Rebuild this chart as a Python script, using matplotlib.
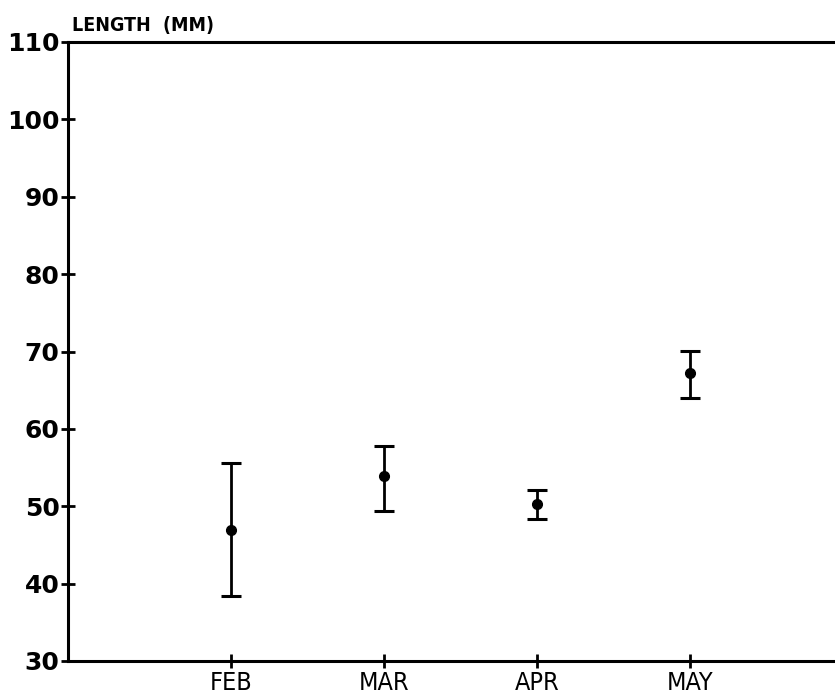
import matplotlib
matplotlib.use("Agg")
import matplotlib.pyplot as plt

# values
months = ["FEB", "MAR", "APR", "MAY"]
mean_length = [46.9, 53.9, 50.3, 67.2]
upper = [55.6, 57.8, 52.1, 70.1]
lower = [38.4, 49.4, 48.4, 64.0]
yticks = [30, 40, 50, 60, 70, 80, 90, 100, 110]

positions = list(range(1, len(months) + 1))
err_low = [m - lo for m, lo in zip(mean_length, lower)]
err_high = [hi - m for m, hi in zip(mean_length, upper)]

fig = plt.figure(figsize=(8.35, 6.98), dpi=100)
ax = fig.add_axes([68 / 835, 1 - 661 / 698, 1 - 68 / 835, (661 - 42) / 698])

# error bars with filled dot for the mean
ax.errorbar(positions, mean_length, yerr=[err_low, err_high], fmt='o',
            color='black', markersize=7, elinewidth=2, capsize=7, capthick=2.2)

ax.set_xlim(-0.065, 4.95)
ax.set_ylim(30, 110)
ax.set_yticks(yticks)
ax.set_xticks(positions)
ax.set_xticklabels(months, fontsize=18, fontstretch='condensed')
ax.set_yticklabels([str(t) for t in yticks], fontsize=18, fontweight='bold')

ax.tick_params(axis='both', direction='inout', length=10, width=2, color='black')
ax.tick_params(axis='y', pad=1)
ax.tick_params(axis='x', pad=2)

# frame: left, bottom, top lines only
for side in ['left', 'bottom', 'top']:
    ax.spines[side].set_linewidth(2.2)
ax.spines['right'].set_visible(False)

# axis title above the y axis
fig.text(72 / 835, 1 - 31 / 698, "LENGTH  (MM)", fontsize=14, fontweight='bold',
         fontstretch='condensed', ha='left', va='baseline')

fig.savefig('out.png', dpi=100)
